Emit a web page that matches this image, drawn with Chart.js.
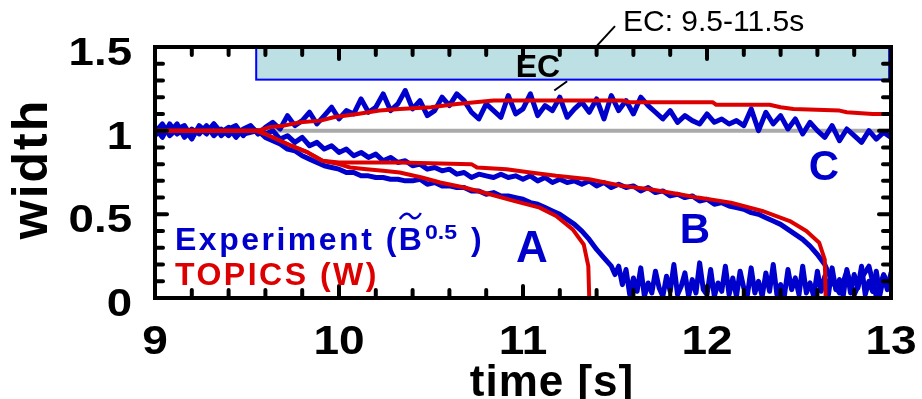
<!DOCTYPE html>
<html>
<head>
<meta charset="utf-8">
<script src="https://cdn.jsdelivr.net/npm/chart.js@4.4.1/dist/chart.umd.min.js"></script>
<style>
  html, body { margin: 0; padding: 0; background: #fff; }
  canvas { display: block; }
</style>
</head>
<body>
<canvas id="widthChart" width="922" height="399"></canvas>
<script>
// experiment sampling: 9.00 s, every 0.04 s
const expT0 = 9.0;
const expDt = 0.04;

// blue: experiment (B~^0.5), one row = 0.4 s
const expC = [
  0.99, 1.04, 0.97, 1.01, 1.03, 0.96, 1.02, 0.98, 1.04, 0.99,
  1.02, 0.96, 1.01, 1.03, 0.98, 1.02, 1.05, 1.01, 1.09, 1.03,
  1.06, 1.11, 1.04, 1.09, 1.14, 1.07, 1.12, 1.10, 1.19, 1.11,
  1.14, 1.22, 1.12, 1.16, 1.24, 1.13, 1.18, 1.09, 1.12, 1.20,
  1.15, 1.22, 1.18, 1.11, 1.07, 1.16, 1.12, 1.08, 1.21, 1.10,
  1.13, 1.22, 1.09, 1.15, 1.12, 1.20, 1.08, 1.13, 1.17, 1.11,
  1.19, 1.07, 1.21, 1.12, 1.18, 1.10, 1.20, 1.15, 1.11, 1.07,
  1.12, 1.05, 1.09, 1.06, 1.04, 1.10, 1.05, 1.07, 1.04, 1.06,
  1.03, 1.13, 1.00, 1.11, 1.04, 1.09, 1.01, 1.07, 0.98, 1.05,
  1.00, 0.96, 1.03, 0.94, 1.01, 0.97, 0.93, 1.00, 0.95, 0.99,
  0.96
];
const expB = [
  1.02, 0.96, 1.04, 0.98, 1.01, 0.95, 1.03, 0.99, 1.04, 0.97,
  1.01, 1.03, 0.97, 1.02, 0.99, 0.98, 1.00, 0.95, 0.97, 0.93,
  0.96, 0.91, 0.93, 0.89, 0.91, 0.87, 0.89, 0.85, 0.87, 0.84,
  0.86, 0.82, 0.84, 0.81, 0.82, 0.79, 0.80, 0.77, 0.78, 0.76,
  0.77, 0.74, 0.75, 0.72, 0.74, 0.73, 0.72, 0.74, 0.72, 0.73,
  0.71, 0.73, 0.70, 0.72, 0.69, 0.71, 0.69, 0.70, 0.68, 0.70,
  0.67, 0.69, 0.66, 0.68, 0.66, 0.67, 0.64, 0.66, 0.63, 0.64,
  0.61, 0.62, 0.60, 0.61, 0.58, 0.59, 0.56, 0.57, 0.55, 0.54,
  0.53, 0.51, 0.50, 0.48, 0.46, 0.44, 0.41, 0.38, 0.35, 0.31,
  0.26, 0.20, 0.10, 0.03, 0.16, 0.02, 0.12, 0.19, 0.01, 0.14,
  0.05
];
// A up to 11.48 s, then the dense tail below
const expA = [
  0.97, 1.03, 0.99, 1.04, 0.96, 1.01, 0.98, 1.03, 0.97, 1.01,
  0.97, 1.02, 0.98, 0.99, 1.00, 0.96, 0.94, 0.92, 0.89, 0.88,
  0.85, 0.83, 0.81, 0.79, 0.78, 0.77, 0.75, 0.75, 0.73, 0.73,
  0.72, 0.72, 0.71, 0.71, 0.70, 0.70, 0.71, 0.68, 0.69, 0.67,
  0.67, 0.66, 0.66, 0.64, 0.64, 0.62, 0.63, 0.61, 0.61, 0.60,
  0.59, 0.57, 0.56, 0.54, 0.52, 0.50, 0.47, 0.44, 0.40, 0.35,
  0.29, 0.24, 0.19
];
// A tail at zero width: 11.50 s to 13.00 s, every 0.02 s
const tailT0 = 11.50;
const tailDt = 0.02;
const expATail = [
  0.14, 0.19, 0.08, 0.17, 0.02, 0.12, 0.04, 0.18, 0.01, 0.09,
  0.03, 0.16, 0.06, 0.01, 0.13, 0.04, 0.20, 0.02, 0.07, 0.15,
  0.01, 0.11, 0.03, 0.21, 0.05, 0.02, 0.17, 0.01, 0.09, 0.04,
  0.19, 0.02, 0.12, 0.01, 0.16, 0.06, 0.02, 0.18, 0.03, 0.10,
  0.01, 0.15, 0.04, 0.20, 0.02, 0.08, 0.01, 0.17, 0.05, 0.12,
  0.02, 0.19, 0.03, 0.09, 0.01, 0.16, 0.04, 0.13, 0.02, 0.18,
  0.05, 0.11, 0.01, 0.17, 0.03, 0.14, 0.06, 0.19, 0.02, 0.10,
  0.04, 0.16, 0.02, 0.13, 0.05, 0.15
];

// red: TOPICS (W)
const topicsCTime = [9.00, 9.56, 9.62, 9.70, 9.79, 9.90, 9.97, 10.10, 10.22, 10.33, 10.50, 10.64, 10.84, 11.54, 11.58, 12.03, 12.05, 12.34, 12.40, 12.47, 12.72, 12.76, 12.90, 13.00];
const topicsC     = [1.00, 1.00, 1.02, 1.03, 1.05, 1.06, 1.08, 1.10, 1.12, 1.13, 1.14, 1.16, 1.18, 1.18, 1.17, 1.17, 1.155, 1.155, 1.14, 1.13, 1.12, 1.11, 1.10, 1.10];
const topicsATime = [9.00, 9.55, 9.60, 9.66, 9.74, 9.83, 9.91, 10.00, 10.06, 10.15, 10.24, 10.33, 10.45, 10.55, 10.68, 10.82, 10.95, 11.09, 11.18, 11.27, 11.33, 11.355, 11.36, 13.00];
const topicsA     = [1.00, 1.00, 0.98, 0.95, 0.91, 0.87, 0.82, 0.80, 0.78, 0.77, 0.76, 0.75, 0.72, 0.69, 0.66, 0.62, 0.58, 0.54, 0.49, 0.41, 0.32, 0.19, 0.00, 0.00];
const topicsBTime = [9.00, 9.55, 9.60, 9.66, 9.74, 9.83, 9.91, 10.00, 10.06, 10.33, 10.72, 10.75, 10.91, 11.04, 11.18, 11.36, 11.54, 11.69, 11.85, 11.95, 12.13, 12.30, 12.45, 12.54, 12.61, 12.64, 12.645, 13.00];
const topicsB     = [1.00, 1.00, 0.98, 0.95, 0.91, 0.87, 0.82, 0.81, 0.81, 0.81, 0.80, 0.78, 0.77, 0.75, 0.73, 0.71, 0.67, 0.65, 0.62, 0.60, 0.57, 0.52, 0.46, 0.40, 0.33, 0.23, 0.00, 0.00];

// reference level and EC window
const refTime = [9, 13];
const refLevel = [1, 1];
const ecWindow = [9.55, 12.99];
const ecBand = [1.305, 1.5];

// axes
const xTicks = [9, 10, 11, 12, 13];
const xMinor = [9.2, 9.4, 9.6, 9.8, 10.2, 10.4, 10.6, 10.8, 11.2, 11.4, 11.6, 11.8, 12.2, 12.4, 12.6, 12.8];
const yTicks = [0, 0.5, 1, 1.5];
const yTickLabels = ['0', '0.5', '1', '1.5'];
const yMinor = [0.1, 0.2, 0.3, 0.4, 0.6, 0.7, 0.8, 0.9, 1.1, 1.2, 1.3, 1.4];

const BLUE = '#0000cc';
const RED = '#dd0000';
const FONT = '"Liberation Sans", Arial, sans-serif';

const timesFrom = (t0, dt, n) => Array.from({ length: n }, (_, i) => +(t0 + i * dt).toFixed(2));
const pts = (xs, ys) => ys.map((y, i) => ({ x: xs[i], y: y }));
const expTime = timesFrom(expT0, expDt, expC.length);
const expAPoints = pts(expTime, expA).concat(pts(timesFrom(tailT0, tailDt, expATail.length), expATail));

function line(data, color, width, order) {
  return {
    data: data, borderColor: color, borderWidth: width, order: order,
    pointRadius: 0, tension: 0, fill: false,
    borderJoinStyle: 'round', borderCapStyle: 'round'
  };
}

function text(ctx, s, x, y, font, color, align, sx, spacing) {
  ctx.save();
  ctx.translate(x, y);
  ctx.scale(sx || 1, 1);
  ctx.font = font;
  ctx.fillStyle = color;
  ctx.textAlign = align || 'left';
  ctx.textBaseline = 'alphabetic';
  ctx.letterSpacing = (spacing || 0) + 'px';
  ctx.fillText(s, 0, 0);
  const w = ctx.measureText(s).width * (sx || 1);
  ctx.restore();
  return w;
}

const decor = {
  id: 'decor',
  beforeDatasetsDraw(chart) {
    const { ctx, scales: { x, y } } = chart;
    // EC box
    const x0 = x.getPixelForValue(ecWindow[0]), x1 = x.getPixelForValue(ecWindow[1]);
    const y0 = y.getPixelForValue(ecBand[1]), y1 = y.getPixelForValue(ecBand[0]);
    ctx.save();
    ctx.fillStyle = '#bce0e3';
    ctx.fillRect(x0, y0, x1 - x0, y1 - y0);
    ctx.strokeStyle = '#0000ff';
    ctx.lineWidth = 2;
    ctx.strokeRect(x0, y0 + 1, x1 - x0, y1 - y0 - 1);
    ctx.restore();
  },
  afterDatasetsDraw(chart) {
    const { ctx, chartArea: a, scales: { x, y } } = chart;
    ctx.save();
    ctx.strokeStyle = '#000';
    ctx.lineCap = 'round';
    ctx.lineWidth = 4;
    ctx.strokeRect(a.left, a.top, a.right - a.left, a.bottom - a.top);
    const tk = (x1, y1, x2, y2) => { ctx.beginPath(); ctx.moveTo(x1, y1); ctx.lineTo(x2, y2); ctx.stroke(); };
    xTicks.forEach(v => { const p = x.getPixelForValue(v); tk(p, a.bottom, p, a.bottom - 12); tk(p, a.top, p, a.top + 12); });
    xMinor.forEach(v => { const p = x.getPixelForValue(v); tk(p, a.bottom, p, a.bottom - 8); tk(p, a.top, p, a.top + 8); });
    yTicks.forEach(v => { const p = y.getPixelForValue(v); tk(a.left, p, a.left + 12, p); tk(a.right, p, a.right - 12, p); });
    yMinor.forEach(v => { const p = y.getPixelForValue(v); tk(a.left, p, a.left + 8, p); tk(a.right, p, a.right - 8, p); });

    // leader line of the EC note
    ctx.lineWidth = 2;
    ctx.lineCap = 'butt';
    tk(x.getPixelForValue(11.40), y.getPixelForValue(1.505), x.getPixelForValue(11.50), y.getPixelForValue(1.625));
    tk(x.getPixelForValue(11.17), y.getPixelForValue(1.24), x.getPixelForValue(11.24), y.getPixelForValue(1.295));
    ctx.restore();

    // tick labels
    xTicks.forEach(v => text(ctx, String(v), x.getPixelForValue(v), 354, 'bold 40px ' + FONT, '#000', 'center', 1.15));
    yTicks.forEach((v, i) => text(ctx, yTickLabels[i], 132, y.getPixelForValue(v) + 18, 'bold 38px ' + FONT, '#000', 'right', 1.2));

    // axis titles
    text(ctx, 'time [s]', 552, 396, 'bold 44px ' + FONT, '#000', 'center', 1, 1);
    ctx.save();
    ctx.translate(47, 169);
    ctx.rotate(-Math.PI / 2);
    text(ctx, 'width', 0, 0, 'bold 50px ' + FONT, '#000', 'center', 1, 2);
    ctx.restore();

    // EC labels
    text(ctx, 'EC', 538, 77, 'bold 32px ' + FONT, '#000', 'center');
    text(ctx, 'EC: 9.5-11.5s', 623, 31, '30px ' + FONT, '#000', 'left');

    // legend
    let px = 175;
    px += text(ctx, 'Experiment (', px, 250, 'bold 32px ' + FONT, BLUE, 'left', 1, 2.5);
    const bx = px;
    px += text(ctx, 'B', px, 250, 'bold 32px ' + FONT, BLUE, 'left');
    ctx.save();
    ctx.strokeStyle = BLUE;
    ctx.lineWidth = 2.5;
    ctx.beginPath();
    ctx.moveTo(bx + 1, 219);
    ctx.bezierCurveTo(bx + 6, 212, bx + 10, 213, bx + 12, 216);
    ctx.bezierCurveTo(bx + 14, 219, bx + 18, 220, bx + 22, 213);
    ctx.stroke();
    ctx.restore();
    px += 3;
    px += text(ctx, '0.5', px, 239, 'bold 21px ' + FONT, BLUE, 'left', 1.1);
    text(ctx, ')', px + 14, 250, 'bold 32px ' + FONT, BLUE, 'left');
    text(ctx, 'TOPICS (W)', 175, 285, 'bold 32px ' + FONT, RED, 'left', 1, 2.5);

    // curve labels
    text(ctx, 'A', 532, 262, 'bold 44px ' + FONT, BLUE, 'center');
    text(ctx, 'B', 695, 243, 'bold 42px ' + FONT, BLUE, 'center');
    text(ctx, 'C', 824, 180, 'bold 42px ' + FONT, BLUE, 'center');
  }
};

new Chart(document.getElementById('widthChart'), {
  type: 'line',
  data: {
    datasets: [
      line(pts(topicsATime, topicsA), RED, 4, 0),
      line(pts(topicsBTime, topicsB), RED, 4, 0),
      line(pts(topicsCTime, topicsC), RED, 4, 0),
      line(expAPoints, BLUE, 5, 1),
      line(pts(expTime, expB), BLUE, 5, 1),
      line(pts(expTime, expC), BLUE, 5, 1),
      line(pts(refTime, refLevel), '#aaaaaa', 4, 2)
    ]
  },
  options: {
    responsive: false,
    animation: false,
    layout: { padding: { left: 155, top: 47, right: 31, bottom: 101 } },
    scales: {
      x: { type: 'linear', min: 9, max: 13, display: false },
      y: { type: 'linear', min: 0, max: 1.5, display: false }
    },
    plugins: { legend: { display: false }, tooltip: { enabled: false } }
  },
  plugins: [decor]
});
</script>
</body>
</html>
